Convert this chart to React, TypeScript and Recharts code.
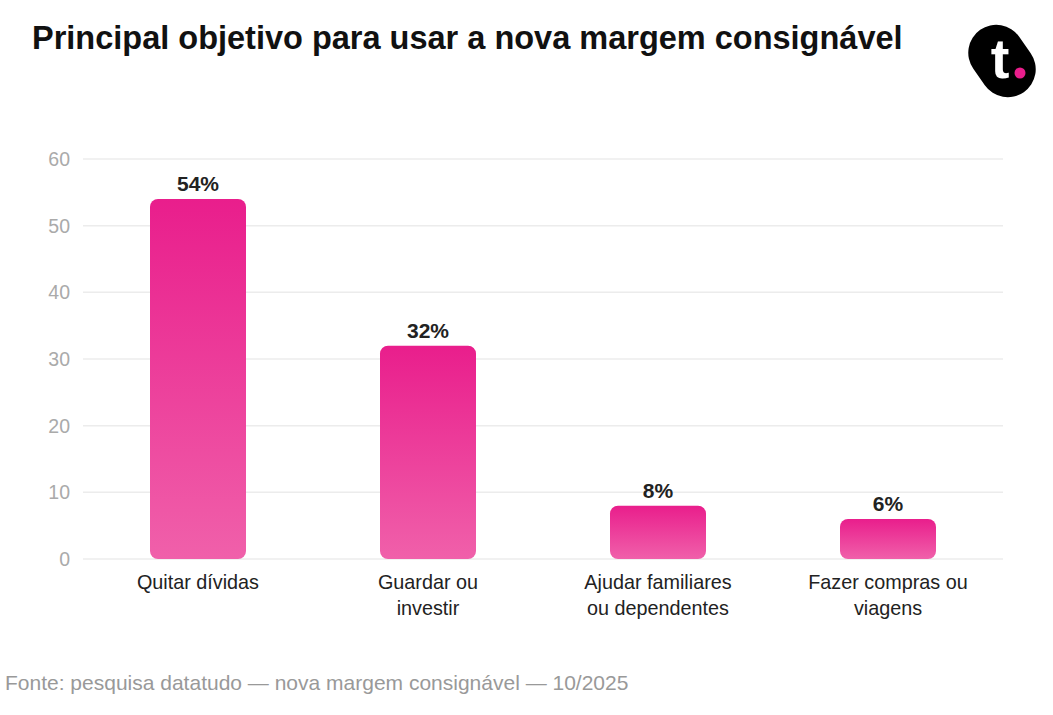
import { BarChart, Bar, XAxis, YAxis, CartesianGrid, LabelList } from "recharts";

const categories = ["Quitar dívidas", "Guardar ou\ninvestir", "Ajudar familiares\nou dependentes", "Fazer compras ou\nviagens"];
const shares = [54, 32, 8, 6];
const yTicks = [0, 10, 20, 30, 40, 50, 60];

const data = categories.map((name, i) => ({ name, value: shares[i] }));

const FONT = '"Liberation Sans", Arial, sans-serif';

const CategoryTick = ({ x, y, payload }: any) => {
  const lines = String(payload.value).split("\n");
  return (
    <text x={x} y={y} textAnchor="middle" fill="#222" fontSize={19.8} fontFamily={FONT}>
      {lines.map((line, i) => (
        <tspan key={i} x={x} dy={i === 0 ? 22 : 26}>
          {line}
        </tspan>
      ))}
    </text>
  );
};

function Logo() {
  return (
    <svg width={100} height={100} style={{ position: "absolute", left: 952, top: 11 }}>
      <rect x={22} y={12} width={56} height={76} rx={28} ry={28} fill="#000" transform="rotate(-35 50 50)" />
      <text x={48} y={67} textAnchor="middle" fill="#fff" fontSize={56} fontWeight={700} fontFamily={FONT}>
        t
      </text>
      <circle cx={68} cy={62} r={5.5} fill="#e91e8c" />
    </svg>
  );
}

export default function App() {
  return (
    <div style={{ position: "absolute", left: 0, top: 0, width: 1053, height: 715, background: "#fff", fontFamily: FONT }}>
      <div style={{ position: "absolute", left: 32, top: 20, fontSize: 32.5, fontWeight: 700, color: "#111", whiteSpace: "nowrap" }}>
        Principal objetivo para usar a nova margem consignável
      </div>
      <Logo />
      <div style={{ position: "absolute", left: 0, top: 0 }}>
        <BarChart width={1053} height={640} data={data} margin={{ top: 159, right: 50, bottom: 21, left: 23 }}>
          <defs>
            <linearGradient id="barGrad" x1="0" y1="0" x2="0" y2="1">
              <stop offset="0%" stopColor="#e91e8c" />
              <stop offset="100%" stopColor="#f060aa" />
            </linearGradient>
          </defs>
          <CartesianGrid vertical={false} stroke="#ececec" strokeWidth={1.5} />
          <XAxis dataKey="name" axisLine={false} tickLine={false} height={60} interval={0} tick={<CategoryTick />} />
          <YAxis
            width={60}
            domain={[0, 60]}
            ticks={yTicks}
            axisLine={false}
            tickLine={false}
            tickMargin={7}
            tick={{ fill: "#aaa", fontSize: 19.5, fontFamily: FONT }}
          />
          <Bar dataKey="value" fill="url(#barGrad)" barSize={96} radius={8} isAnimationActive={false}>
            <LabelList
              dataKey="value"
              position="top"
              offset={8}
              formatter={(v: any) => `${v}%`}
              style={{ fill: "#222", fontSize: 21, fontWeight: 700, fontFamily: FONT }}
            />
          </Bar>
        </BarChart>
      </div>
      <div style={{ position: "absolute", left: 5, top: 671, fontSize: 21, color: "#999", whiteSpace: "nowrap" }}>
        Fonte: pesquisa datatudo — nova margem consignável — 10/2025
      </div>
    </div>
  );
}
